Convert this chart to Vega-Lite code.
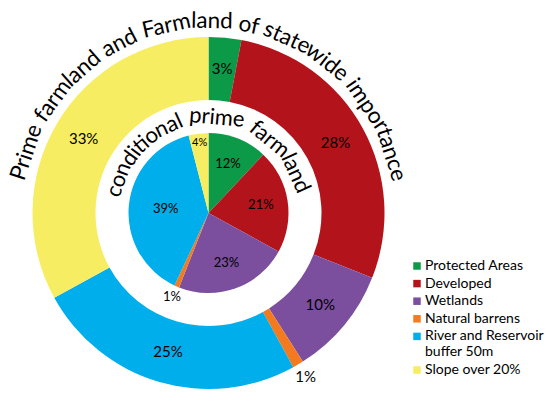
{
  "$schema": "https://vega.github.io/schema/vega-lite/v6.json",
  "width": 417,
  "height": 366,
  "autosize": "none",
  "padding": {"left": 0, "top": 30, "right": 133, "bottom": 0},
  "background": "white",
  "config": {"view": {"stroke": null}, "font": "Lato", "text": {"font": "Lato"}},
  "datasets": {
    "shares": [
      {"ring": "outer", "cat": "Protected Areas", "ord": 1, "share": 0.03},
      {"ring": "outer", "cat": "Developed", "ord": 2, "share": 0.28},
      {"ring": "outer", "cat": "Wetlands", "ord": 3, "share": 0.10},
      {"ring": "outer", "cat": "Natural barrens", "ord": 4, "share": 0.01},
      {"ring": "outer", "cat": "River and Reservoir buffer 50m", "ord": 5, "share": 0.25},
      {"ring": "outer", "cat": "Slope over 20%", "ord": 6, "share": 0.33},
      {"ring": "inner", "cat": "Protected Areas", "ord": 1, "share": 0.12},
      {"ring": "inner", "cat": "Developed", "ord": 2, "share": 0.21},
      {"ring": "inner", "cat": "Wetlands", "ord": 3, "share": 0.23},
      {"ring": "inner", "cat": "Natural barrens", "ord": 4, "share": 0.01},
      {"ring": "inner", "cat": "River and Reservoir buffer 50m", "ord": 5, "share": 0.39},
      {"ring": "inner", "cat": "Slope over 20%", "ord": 6, "share": 0.04}
    ],
    "outerTitle": [
      {"t": "Prime", "at": 1.285},
      {"t": "farm", "at": 3.885},
      {"t": "land", "at": 5.83},
      {"t": "and", "at": 7.87},
      {"t": "Farm", "at": 10.105},
      {"t": "land", "at": 12.16},
      {"t": "of", "at": 13.825},
      {"t": "state", "at": 15.615},
      {"t": "wide", "at": 17.71},
      {"t": "impor", "at": 20.34},
      {"t": "tance", "at": 22.82}
    ],
    "innerTitle": [
      {"t": "con", "at": 0.79},
      {"t": "di", "at": 1.98},
      {"t": "tio", "at": 2.95},
      {"t": "nal", "at": 4.17},
      {"t": "prime", "at": 6.39},
      {"t": "farm", "at": 8.975},
      {"t": "land", "at": 10.92}
    ]
  },
  "layer": [
    {
      "data": {"name": "shares"},
      "transform": [{"filter": "datum.ring === 'outer'"}],
      "mark": {"type": "arc", "outerRadius": 176, "innerRadius": 113},
      "encoding": {
        "theta": {"field": "share", "type": "quantitative", "stack": true},
        "order": {"field": "ord"},
        "color": {
          "field": "cat",
          "type": "nominal",
          "scale": {
            "domain": ["Protected Areas", "Developed", "Wetlands", "Natural barrens", "River and Reservoir buffer 50m", "Slope over 20%"],
            "range": ["#0c9a48", "#b3141b", "#7b4f9e", "#f47a20", "#00aeeb", "#f7ed62"]
          },
          "legend": {
            "title": null,
            "orient": "none",
            "legendX": 410,
            "legendY": 229,
            "symbolType": "square",
            "symbolSize": 56,
            "symbolStrokeWidth": 0,
            "labelFont": "Lato",
            "labelFontSize": 14,
            "labelColor": "black",
            "labelOffset": 1,
            "rowPadding": 3.6,
            "labelLimit": 200,
            "labelExpr": "datum.label === 'River and Reservoir buffer 50m' ? ['River and Reservoir', 'buffer 50m'] : datum.label"
          }
        }
      }
    },
    {
      "data": {"name": "shares"},
      "transform": [{"filter": "datum.ring === 'inner'"}],
      "mark": {"type": "arc", "outerRadius": 80, "innerRadius": 0},
      "encoding": {
        "theta": {"field": "share", "type": "quantitative", "stack": true},
        "order": {"field": "ord"},
        "color": {"field": "cat", "type": "nominal"}
      }
    },
    {
      "data": {"name": "shares"},
      "transform": [{"filter": "datum.ring === 'outer'"}],
      "mark": {"type": "text", "radius": 145, "fontSize": 15, "font": "Lato", "color": "black"},
      "encoding": {
        "theta": {"field": "share", "type": "quantitative", "stack": true},
        "order": {"field": "ord"},
        "text": {"field": "share", "type": "quantitative", "format": ".0%"},
        "opacity": {"condition": {"test": "datum.cat !== 'Natural barrens'", "value": 1}, "value": 0}
      }
    },
    {
      "data": {"name": "shares"},
      "transform": [{"filter": "datum.ring === 'outer'"}],
      "mark": {"type": "text", "radius": 191, "fontSize": 15, "font": "Lato", "color": "black"},
      "encoding": {
        "theta": {"field": "share", "type": "quantitative", "stack": true},
        "order": {"field": "ord"},
        "text": {"field": "share", "type": "quantitative", "format": ".0%"},
        "opacity": {"condition": {"test": "datum.cat === 'Natural barrens'", "value": 1}, "value": 0}
      }
    },
    {
      "data": {"name": "shares"},
      "transform": [{"filter": "datum.ring === 'inner'"}],
      "mark": {"type": "text", "radius": 53, "fontSize": 13, "font": "Lato", "color": "black"},
      "encoding": {
        "theta": {"field": "share", "type": "quantitative", "stack": true},
        "order": {"field": "ord"},
        "text": {"field": "share", "type": "quantitative", "format": ".0%"},
        "opacity": {"condition": {"test": "datum.ord <= 3", "value": 1}, "value": 0}
      }
    },
    {
      "data": {"name": "shares"},
      "transform": [{"filter": "datum.ring === 'inner'"}],
      "mark": {"type": "text", "radius": 43, "fontSize": 13, "font": "Lato", "color": "black"},
      "encoding": {
        "theta": {"field": "share", "type": "quantitative", "stack": true},
        "order": {"field": "ord"},
        "text": {"field": "share", "type": "quantitative", "format": ".0%"},
        "opacity": {"condition": {"test": "datum.ord === 5", "value": 1}, "value": 0}
      }
    },
    {
      "data": {"name": "shares"},
      "transform": [{"filter": "datum.ring === 'inner'"}],
      "mark": {"type": "text", "radius": 71, "fontSize": 11, "font": "Lato", "color": "black"},
      "encoding": {
        "theta": {"field": "share", "type": "quantitative", "stack": true},
        "order": {"field": "ord"},
        "text": {"field": "share", "type": "quantitative", "format": ".0%"},
        "opacity": {"condition": {"test": "datum.ord === 6", "value": 1}, "value": 0}
      }
    },
    {
      "data": {"name": "shares"},
      "transform": [{"filter": "datum.ring === 'inner'"}],
      "mark": {"type": "text", "radius": 92, "fontSize": 13, "font": "Lato", "color": "black"},
      "encoding": {
        "theta": {"field": "share", "type": "quantitative", "stack": true},
        "order": {"field": "ord"},
        "text": {"field": "share", "type": "quantitative", "format": ".0%"},
        "opacity": {"condition": {"test": "datum.ord === 4", "value": 1}, "value": 0}
      }
    },
    {
      "data": {"name": "outerTitle"},
      "mark": {"type": "text", "radius": 192, "fontSize": 22.5, "font": "Lato", "color": "black", "baseline": "middle", "align": "center"},
      "encoding": {
        "theta": {"field": "at", "type": "quantitative", "stack": false, "scale": {"domain": [0, 24.01], "range": [-1.40, 1.40]}},
        "angle": {"field": "at", "type": "quantitative", "scale": {"domain": [0, 24.01], "range": [-80.2, 80.2]}},
        "text": {"field": "t"}
      }
    },
    {
      "data": {"name": "innerTitle"},
      "mark": {"type": "text", "radius": 96, "fontSize": 22, "font": "Lato", "color": "black", "baseline": "middle", "align": "center"},
      "encoding": {
        "theta": {"field": "at", "type": "quantitative", "stack": false, "scale": {"domain": [0, 11.85], "range": [-1.40, 1.36]}},
        "angle": {"field": "at", "type": "quantitative", "scale": {"domain": [0, 11.85], "range": [-80.2, 77.9]}},
        "text": {"field": "t"}
      }
    }
  ],
  "resolve": {"scale": {"theta": "independent", "angle": "independent"}}
}
